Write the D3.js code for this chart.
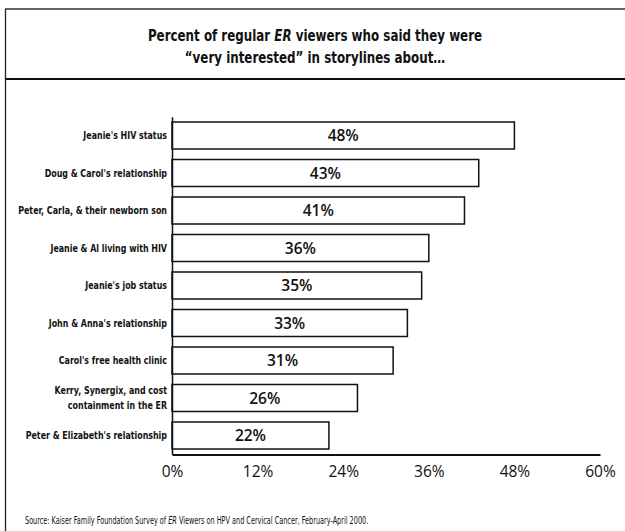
<!DOCTYPE html>
<html>
<head>
<meta charset="utf-8">
<script src="https://cdn.jsdelivr.net/npm/d3@7/dist/d3.min.js"></script>
<style>
  html, body { margin: 0; padding: 0; background: #fff; }
  svg { display: block; }
</style>
</head>
<body>
<script>
const categories = [
  ["Jeanie's HIV status"],
  ["Doug & Carol's relationship"],
  ["Peter, Carla, & their newborn son"],
  ["Jeanie & Al living with HIV"],
  ["Jeanie's job status"],
  ["John & Anna's relationship"],
  ["Carol's free health clinic"],
  ["Kerry, Synergix, and cost", "containment in the ER"],
  ["Peter & Elizabeth's relationship"]
];
const values = [48, 43, 41, 36, 35, 33, 31, 26, 22];
const tickValues = [0, 12, 24, 36, 48, 60];
const titleLines = [
  [{t: "Percent of regular "}, {t: "ER", i: true}, {t: " viewers who said they were"}],
  [{t: "\u201Cvery interested\u201D in storylines about\u2026"}]
];
const sourceParts = [
  {t: "Source: Kaiser Family Foundation Survey of "}, {t: "ER", i: true},
  {t: " Viewers on HPV and Cervical Cancer, February-April 2000."}
];

const W = 625, H = 531;
const svg = d3.select("body").append("svg").attr("width", W).attr("height", H);

const condensed = "'DejaVu Sans Condensed', 'DejaVu Sans', sans-serif";
const numFont = "'Open Sans', 'Noto Sans', sans-serif";

// frame
svg.append("line").attr("x1", 5).attr("x2", W).attr("y1", 9).attr("y2", 9)
  .attr("stroke", "#333").attr("stroke-width", 1.3);
svg.append("line").attr("x1", 5.5).attr("x2", 5.5).attr("y1", 9).attr("y2", H)
  .attr("stroke", "#222").attr("stroke-width", 1.3);
svg.append("line").attr("x1", 5).attr("x2", W).attr("y1", 79).attr("y2", 79)
  .attr("stroke", "#111").attr("stroke-width", 2.2);

// title
titleLines.forEach((parts, li) => {
  const t = svg.append("text")
    .attr("transform", `translate(315,${41 + li * 22}) scale(0.8,1)`)
    .attr("text-anchor", "middle")
    .style("font-family", condensed).style("font-weight", "bold")
    .style("font-size", "16.5px").attr("fill", "#111");
  parts.forEach(p => t.append("tspan").text(p.t).style("font-style", p.i ? "italic" : "normal"));
});

// scales
const x = d3.scaleLinear().domain([0, 60]).range([172, 600]);
const y = d3.scaleBand().domain(d3.range(values.length))
  .range([116.75, 454.25]).paddingInner(0.28).paddingOuter(0.14);

// bars
const g = svg.append("g");
g.selectAll("rect").data(values).join("rect")
  .attr("x", x(0)).attr("y", (d, i) => y(i))
  .attr("width", d => x(d) - x(0)).attr("height", y.bandwidth())
  .attr("fill", "#fff").attr("stroke", "#111").attr("stroke-width", 1.5);

// value labels
g.selectAll("text.val").data(values).join("text").attr("class", "val")
  .attr("x", d => (x(0) + x(d)) / 2)
  .attr("y", (d, i) => y(i) + y.bandwidth() / 2)
  .attr("dy", "0.36em").attr("text-anchor", "middle")
  .style("font-family", numFont).style("font-weight", 600).style("font-size", "15.5px")
  .attr("fill", "#111").text(d => d + "%");

// category labels
categories.forEach((lines, i) => {
  const cy = y(i) + y.bandwidth() / 2;
  lines.forEach((ln, k) => {
    svg.append("text")
      .attr("transform", `translate(167,${cy + (k - (lines.length - 1) / 2) * 15}) scale(0.8,1)`)
      .attr("dy", "0.36em").attr("text-anchor", "end")
      .style("font-family", condensed).style("font-weight", "bold").style("font-size", "11px")
      .attr("fill", "#111").text(ln);
  });
});

// axes
const xAxis = d3.axisBottom(x).tickValues(tickValues).tickSize(0).tickPadding(11)
  .tickFormat(d => d + "%");
const ax = svg.append("g").attr("transform", "translate(0,454.5)").call(xAxis);
ax.select(".domain").attr("stroke", "#111").attr("stroke-width", 2.2);
ax.selectAll("text").style("font-family", numFont).style("font-size", "15.5px").attr("fill", "#111");

const yAxis = d3.axisLeft(y).tickSize(0).tickFormat("");
const ay = svg.append("g").attr("transform", "translate(172,0)").call(yAxis);
ay.select(".domain").attr("stroke", "#111").attr("stroke-width", 1.5);

// source
const st = svg.append("text").attr("transform", "translate(25,524) scale(0.69,1)")
  .style("font-family", condensed).style("font-size", "10.5px").attr("fill", "#111");
sourceParts.forEach(p => st.append("tspan").text(p.t).style("font-style", p.i ? "italic" : "normal"));
</script>
</body>
</html>
